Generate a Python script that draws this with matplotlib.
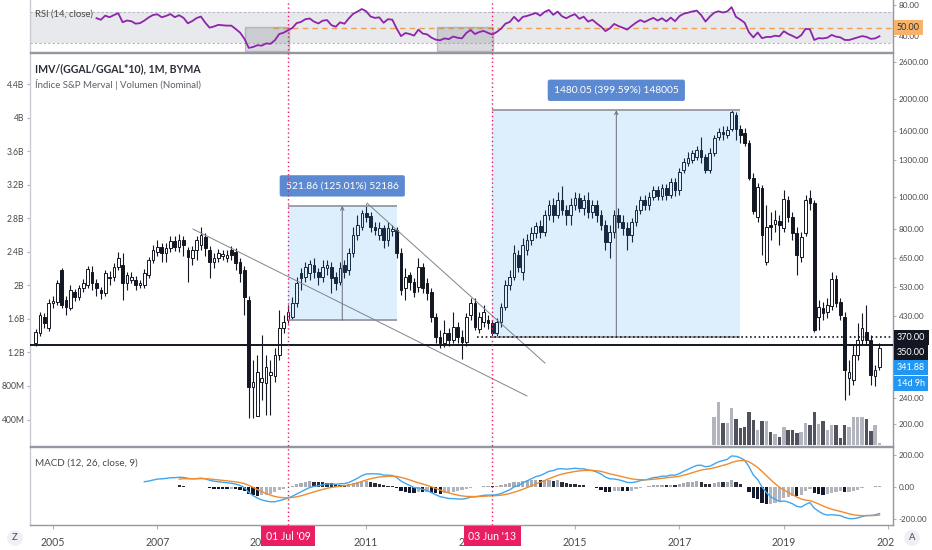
import numpy as np
import matplotlib
matplotlib.use("Agg")
import matplotlib.pyplot as plt
import matplotlib.transforms as mtrans
from matplotlib.patches import Rectangle
from matplotlib.lines import Line2D
from matplotlib.ticker import NullLocator, NullFormatter, FixedLocator

plt.rcParams['font.family'] = ['Lato', 'DejaVu Sans']

# ---------------- data (monthly, Sep 2004 .. Nov 2020) ----------------
START_YEAR, START_MONTH = 2004, 9

opens = [
    355, 382, 427, 396,
    472, 475, 596, 482, 455, 510, 492, 524, 536, 588, 544, 517,
    506, 563, 567, 609, 618, 544, 555, 555, 536, 536, 575, 640,
    677, 702, 672, 697, 732, 702, 737, 687, 649, 687, 712, 753,
    687, 632, 649, 658, 649, 687, 677, 632, 596, 482, 260, 212,
    270, 268, 283, 281, 326, 396, 418, 427, 472, 584, 567, 584,
    618, 588, 567, 604, 609, 567, 547, 618, 596, 672, 764, 809,
    893, 874, 809, 764, 803, 737, 787, 792, 672, 524, 575, 547,
    528, 609, 544, 510, 427, 371, 355, 381, 363, 398, 371, 358,
    433, 472, 393, 413, 418, 409, 381, 413, 458, 536, 567, 663,
    588, 687, 737, 776, 814, 781, 881, 945, 881, 980, 912, 881,
    945, 994, 925, 980, 899, 945, 881, 820, 727, 781, 881, 838,
    803, 764, 838, 912, 980, 945, 1001, 1052, 1008, 1067, 1015, 1113,
    1052, 1212, 1274, 1301, 1329, 1397, 1329, 1212, 1367, 1531, 1587, 1553,
    1621, 1790, 1621, 1575, 1468, 1145, 868, 1067, 632, 820, 826, 844,
    803, 980, 868, 776, 654, 776, 994, 959, 427, 455, 443, 462,
    559, 475, 427, 277, 273, 326, 363, 384, 363, 281, 300,
]
highs = [
    393, 443, 439, 485,
    496, 555, 605, 496, 536, 521, 536, 559, 613, 613, 559, 528,
    596, 592, 627, 677, 672, 588, 588, 571, 555, 600, 654, 712,
    737, 722, 722, 759, 759, 770, 759, 702, 707, 759, 809, 776,
    707, 672, 692, 687, 687, 707, 697, 649, 613, 496, 315, 326,
    376, 326, 315, 343, 449, 433, 465, 492, 567, 604, 632, 640,
    649, 604, 640, 640, 632, 588, 632, 640, 697, 809, 881, 912,
    951, 899, 838, 838, 820, 838, 820, 809, 697, 604, 588, 563,
    649, 627, 563, 524, 439, 390, 418, 396, 443, 413, 390, 439,
    489, 489, 443, 465, 433, 418, 424, 472, 555, 596, 712, 687,
    748, 770, 809, 838, 850, 912, 980, 994, 1037, 1082, 945, 994,
    1037, 1030, 1015, 1037, 980, 980, 912, 850, 820, 912, 925, 881,
    838, 862, 945, 1008, 1015, 1037, 1082, 1082, 1098, 1098, 1145, 1145,
    1229, 1320, 1377, 1397, 1437, 1531, 1357, 1417, 1553, 1632, 1655, 1655,
    1854, 1828, 1667, 1632, 1499, 1187, 1106, 1090, 945, 899, 912, 881,
    1052, 1008, 899, 809, 781, 1015, 1052, 980, 482, 475, 489, 588,
    575, 489, 443, 315, 350, 409, 439, 465, 376, 304, 356,
]
lows = [
    348, 373, 396, 387,
    455, 465, 455, 433, 449, 479, 482, 510, 524, 517, 496, 485,
    496, 536, 551, 596, 482, 517, 544, 517, 524, 524, 563, 627,
    658, 632, 632, 677, 682, 677, 658, 547, 618, 640, 687, 658,
    563, 604, 632, 640, 632, 640, 596, 547, 433, 209, 209, 211,
    237, 213, 213, 270, 315, 381, 409, 418, 458, 517, 547, 555,
    563, 536, 547, 575, 506, 517, 536, 563, 575, 654, 737, 792,
    838, 781, 764, 737, 697, 707, 759, 649, 499, 482, 517, 492,
    510, 506, 482, 413, 355, 342, 345, 348, 355, 355, 318, 348,
    418, 390, 381, 398, 393, 371, 371, 398, 449, 517, 555, 588,
    555, 663, 712, 748, 748, 759, 850, 838, 862, 881, 820, 820,
    912, 899, 881, 862, 862, 838, 792, 687, 649, 748, 803, 764,
    687, 727, 814, 887, 912, 912, 980, 980, 980, 980, 994, 1008,
    1015, 1187, 1247, 1274, 1301, 1274, 1187, 1187, 1338, 1499, 1499, 1521,
    1598, 1499, 1468, 1437, 1129, 887, 838, 663, 618, 737, 781, 712,
    781, 838, 737, 575, 632, 759, 912, 384, 390, 418, 424, 449,
    458, 418, 237, 246, 264, 315, 350, 350, 264, 262, 293,
]
closes = [
    384, 433, 409, 472,
    478, 544, 465, 458, 517, 492, 524, 544, 600, 544, 524, 506,
    584, 567, 609, 649, 544, 575, 567, 536, 544, 584, 640, 687,
    702, 672, 697, 732, 702, 737, 712, 654, 687, 737, 764, 697,
    632, 649, 672, 668, 663, 663, 627, 584, 492, 260, 270, 290,
    277, 300, 290, 326, 396, 413, 443, 472, 544, 563, 609, 622,
    588, 567, 609, 618, 563, 544, 604, 588, 672, 764, 820, 893,
    868, 809, 792, 803, 737, 803, 797, 672, 517, 567, 547, 510,
    609, 524, 506, 427, 371, 355, 381, 363, 398, 371, 358, 427,
    472, 398, 427, 443, 409, 381, 413, 458, 536, 567, 672, 609,
    712, 737, 776, 814, 781, 881, 945, 881, 980, 912, 881, 945,
    994, 925, 980, 899, 945, 881, 820, 727, 781, 881, 838, 803,
    764, 838, 912, 980, 945, 1001, 1052, 1008, 1067, 1015, 1113, 1052,
    1195, 1283, 1320, 1367, 1397, 1329, 1212, 1367, 1521, 1587, 1564, 1609,
    1828, 1621, 1553, 1468, 1145, 906, 1075, 764, 809, 809, 850, 820,
    987, 868, 776, 663, 753, 980, 959, 390, 458, 439, 465, 559,
    472, 433, 293, 290, 326, 363, 396, 363, 283, 293, 341.88,
]
# volume bars (visible from Sep 2017), relative heights
VOL_START = (2017, 9)
volume = [28, 43, 22, 22, 37, 26, 17, 18, 33, 25, 15, 24, 24, 13, 11, 8,
          18, 15, 15, 12, 13, 22, 20, 33, 21, 24, 15, 20,
          20, 7, 20, 18, 28, 28, 28, 26, 14, 20, 2]

xtick_years = [2005, 2007, 2009, 2011, 2013, 2015, 2017, 2019, 2021]
left_ticks = [0.4, 0.8, 1.2, 1.6, 2.0, 2.4, 2.8, 3.2, 3.6, 4.0, 4.4]
left_labels = ['400M', '800M', '1.2B', '1.6B', '2B', '2.4B', '2.8B', '3.2B', '3.6B', '4B', '4.4B']
right_ticks = [200, 240, 430, 530, 650, 800, 1000, 1300, 1600, 2000, 2600]
macd_ticks = [200, 0, -200]
macd_labels = ['200.00', '0.00', '-200.00']

# drawings
marker_dates = [(2009 + 6/12, "01 Jul '09"), (2013 + 5/12, "03 Jun '13")]
range_boxes = [  # (t0, t1, bottom price, change, label)
    (2009 + 6/12, 2011 + 7/12, 417.45, 521.86, '521.86 (125.01%) 52186'),
    (2013 + 5/12, 2018 + 2/12, 370.40, 1480.05, '1480.05 (399.59%) 148005'),
]
trend_lines = [((2007.682, 797), (2014.08, 244)),
               ((2011.015, 958), (2014.425, 308))]
support_level = 350
resist_level = 370
resist_start = 2013.12
rsi_boxes = [(2008.678, 2009.52), (2012.356, 2013.43)]

# ---------------- computations ----------------
o = np.array(opens, float); h = np.array(highs, float)
l = np.array(lows, float); c = np.array(closes, float)
n = len(c)
t = START_YEAR + (START_MONTH - 1) / 12 + np.arange(n) / 12


def ema(x, length):
    out = np.full(len(x), np.nan)
    s = np.where(~np.isnan(x))[0][0]
    f = s + length - 1
    out[f] = np.mean(x[s:f + 1])
    a = 2 / (length + 1)
    for i in range(f + 1, len(x)):
        out[i] = a * x[i] + (1 - a) * out[i - 1]
    return out


def rma(x, length):
    out = np.full(len(x), np.nan)
    s = np.where(~np.isnan(x))[0][0]
    f = s + length - 1
    out[f] = np.mean(x[s:f + 1])
    for i in range(f + 1, len(x)):
        out[i] = (out[i - 1] * (length - 1) + x[i]) / length
    return out


chg = np.diff(c, prepend=np.nan)
gain = np.where(chg > 0, chg, 0.0); gain[0] = np.nan
loss = np.where(chg < 0, -chg, 0.0); loss[0] = np.nan
rsi = 100 - 100 / (1 + rma(gain, 14) / rma(loss, 14))

macd = ema(c, 12) - ema(c, 26)
signal = ema(macd, 9)
hist = macd - signal

# ---------------- layout ----------------
W, H = 932, 550
fig = plt.figure(figsize=(W / 100, H / 100), dpi=100)


def rect(x0, y0, x1, y1):
    return [x0 / W, 1 - y1 / H, (x1 - x0) / W, (y1 - y0) / H]


XMIN, XMAX = 2004.5594, 2021.092
SEP = '#9598a1'
TXT = '#4a4a4a'
FS = 6.8
RFS = 5.9   # right price-scale labels

ax_rsi = fig.add_axes(rect(30, 0, 893, 52))
ax_left = fig.add_axes(rect(30, 53, 893, 446))
ax_vol = fig.add_axes(rect(30, 53, 893, 446))
ax = fig.add_axes(rect(30, 53, 893, 446))
ax_macd = fig.add_axes(rect(30, 447, 893, 525))
ax_vol.set_zorder(1); ax.set_zorder(2)
for a in (ax_vol, ax):
    a.patch.set_visible(False)

for a in (ax_rsi, ax_left, ax_vol, ax, ax_macd):
    a.set_xlim(XMIN, XMAX)
    a.tick_params(axis='x', which='both', bottom=False, labelbottom=False)
    for s in a.spines.values():
        s.set_color(SEP); s.set_linewidth(1.0)

# ---- left linear axis (billions) ----
ax_left.set_ylim(0.0836, 4.776)
ax_left.set_yticks(left_ticks)
ax_left.set_yticklabels(left_labels)
ax_left.tick_params(axis='y', left=True, labelleft=True, right=False, labelright=False,
                    length=2.5, color='#b0b3bb', labelsize=6.2, labelcolor=TXT, pad=1.5)
for s in ('top', 'right', 'bottom'):
    ax_left.spines[s].set_visible(False)
ax_left.spines['left'].set_color('#c9ccd3')

# ---- volume ----
ax_vol.axis('off')
ax_vol.set_ylim(0, 393)
vi = (VOL_START[0] - START_YEAR) * 12 + VOL_START[1] - START_MONTH
vt = t[vi:vi + len(volume)]
vup = c[vi:vi + len(volume)] >= o[vi:vi + len(volume)]
ax_vol.bar(vt, volume, width=0.8 / 12, bottom=1,
           color=np.where(vup, '#b2b5be', '#50535e'), linewidth=0)

# ---- candles ----
ax.set_yscale('log')
ax.set_ylim(171.1, 2778)
up = c >= o
bw = 0.62 / 12
ax.vlines(t, l, h, color='#131722', lw=0.8, zorder=2)
ax.bar(t[up], c[up] - o[up], bottom=o[up], width=bw, color='white',
       edgecolor='#131722', linewidth=0.7, zorder=3)
ax.bar(t[~up], o[~up] - c[~up], bottom=c[~up], width=bw, color='#131722',
       edgecolor='#131722', linewidth=0.7, zorder=3)

ax.yaxis.set_major_locator(FixedLocator(right_ticks))
ax.yaxis.set_minor_locator(NullLocator())
ax.yaxis.set_minor_formatter(NullFormatter())
ax.yaxis.set_major_formatter(matplotlib.ticker.FuncFormatter(lambda v, p: f'{v:.2f}'))
ax.tick_params(axis='y', left=False, labelleft=False, right=True, labelright=True,
               length=2.5, color='#b0b3bb', labelsize=RFS, labelcolor=TXT, pad=1.5)
ax.spines['left'].set_visible(False)

# range boxes
for (t0, t1, bot, dif, lab) in range_boxes:
    top = bot + dif
    ax.add_patch(Rectangle((t0, bot), t1 - t0, top - bot, facecolor='#2196f3',
                           alpha=0.15, edgecolor='none', zorder=4))
    ax.hlines([bot, top], t0, t1, color='#9598a1', lw=1.3, zorder=4)
    mid = (t0 + t1) / 2
    ax.annotate('', xy=(mid, top), xytext=(mid, bot),
                arrowprops=dict(arrowstyle='->', color='#6a6d78', lw=0.7,
                                shrinkA=0, shrinkB=0, mutation_scale=6), zorder=4)
    ax.annotate(lab, xy=(mid, top), xytext=(0, 20), textcoords='offset pixels',
                ha='center', va='center', color='white', fontsize=FS + 0.6,
                bbox=dict(boxstyle='round,pad=0.6,rounding_size=0.2', fc='#5b8ad2', ec='none'),
                zorder=6)

for (p0, p1) in trend_lines:
    ax.plot([p0[0], p1[0]], [p0[1], p1[1]], color='#80838d', lw=0.7, zorder=4)

ax.axhline(support_level, color='#131722', lw=1.4, zorder=5)
ax.hlines(resist_level, resist_start, XMAX, color='#131722', lw=1.2,
          linestyles=(0, (1, 1.6)), zorder=5)


def price_label(axis, y, text, fc, dy=0, tc='white'):
    axis.annotate(text, xy=(1.0, y), xycoords=mtrans.blended_transform_factory(axis.transAxes, axis.transData),
                  xytext=(4, dy), textcoords='offset pixels', ha='left', va='center',
                  fontsize=RFS + 0.6, color=tc, annotation_clip=False, zorder=10,
                  bbox=dict(boxstyle='square,pad=0.35', fc=fc, ec='none'))


price_label(ax, resist_level, f'{resist_level:.2f}', '#131722')
price_label(ax, support_level, f'{support_level:.2f}', '#131722', dy=-7)
price_label(ax, c[-1], f'{c[-1]:.2f}', '#2196f3', dy=-19)
price_label(ax, c[-1], '14d 9h', '#2196f3', dy=-35)

fig.text(35 / W, 1 - 69 / H, 'IMV/(GGAL/GGAL*10), 1M, BYMA', fontsize=7.6, fontweight='bold',
         color='#2a2e39', va='center', ha='left')
fig.text(35 / W, 1 - 84 / H, 'Índice S&P Merval | Volumen (Nominal)', fontsize=6.9,
         color='#5d606b', va='center', ha='left')

# ---- RSI ----
ax_rsi.set_ylim(18.8, 85.9)
ax_rsi.axhspan(30, 70, color='#e8e9ec', zorder=0, lw=0)
ax_rsi.axhline(70, color='#b2b5be', lw=0.8, ls=(0, (2, 2)))
ax_rsi.axhline(30, color='#b2b5be', lw=0.8, ls=(0, (2, 2)))
ax_rsi.hlines(50, 2009.21, XMAX, color='#f0a050', lw=1.0, linestyles=(0, (4, 3)), zorder=2)
for (a0, a1) in rsi_boxes:
    ax_rsi.add_patch(Rectangle((a0, 20.1), a1 - a0, 31, facecolor='#9598a1', alpha=0.35,
                               edgecolor='#6a6d78', lw=1.0, zorder=3))
ax_rsi.plot(t, rsi, color='#8e24aa', lw=1.3, zorder=4)
ax_rsi.set_yticks([80, 40])
ax_rsi.set_yticklabels(['80.00', '40.00'])
ax_rsi.tick_params(axis='y', left=False, labelleft=False, right=True, labelright=True,
                   length=2.5, color='#b0b3bb', labelsize=RFS, labelcolor=TXT, pad=1.5)
ax_rsi.spines['top'].set_visible(False)
ax_rsi.spines['left'].set_color('#c9ccd3')
price_label(ax_rsi, 50, '50.00', '#f5b36b', tc='#333333')
ax_rsi.text(0.006, 0.73, 'RSI (14, close)', transform=ax_rsi.transAxes, fontsize=FS,
            color=TXT, va='center', ha='left')

# ---- MACD ----
ax_macd.set_ylim(-237.5, 250)
hprev = np.concatenate([[np.nan], hist[:-1]])
grow = hist > hprev
hcol = np.where(hist >= 0, np.where(grow, '#a9acb5', '#2a2e39'),
                np.where(grow, '#b2b5be', '#131a2e'))
ok = ~np.isnan(hist)
ax_macd.bar(t[ok], hist[ok], width=0.75 / 12, color=hcol[ok], linewidth=0, zorder=2)
ax_macd.plot(t, macd, color='#3ea6f2', lw=1.0, zorder=3)
ax_macd.plot(t, signal, color='#f08c2e', lw=1.0, zorder=3)
ax_macd.set_yticks(macd_ticks)
ax_macd.set_yticklabels(macd_labels)
ax_macd.tick_params(axis='y', left=False, labelleft=False, right=True, labelright=True,
                    length=2.5, color='#b0b3bb', labelsize=RFS, labelcolor=TXT, pad=1.5)
ax_macd.set_xticks(xtick_years)
ax_macd.set_xticklabels([str(y) for y in xtick_years])
ax_macd.tick_params(axis='x', bottom=True, labelbottom=True, length=3, color='#b0b3bb',
                    labelsize=FS + 0.8, labelcolor=TXT, pad=6)
ax_macd.spines['left'].set_color('#c9ccd3')
ax_macd.text(0.006, 0.8, 'MACD (12, 26, close, 9)', transform=ax_macd.transAxes,
             fontsize=FS + 0.3, color=TXT, va='center', ha='left')

# ---- vertical date markers ----
vtr = mtrans.blended_transform_factory(ax_macd.transData, fig.transFigure)
for (td, lab) in marker_dates:
    fig.add_artist(Line2D([td, td], [1 - 525 / H, 1.0], transform=vtr, color='#e91e63',
                          lw=1.0, ls=(0, (1, 2)), zorder=5))
    fig.text(td, 1 - 536 / H, lab, transform=vtr, ha='center', va='center', color='white',
             fontsize=FS + 0.8, zorder=7,
             bbox=dict(boxstyle='square,pad=0.45', fc='#e91e63', ec='none'))

# cover right of time axis
fig.add_artist(Rectangle((894 / W, 0), 38 / W, 1 - 526 / H, transform=fig.transFigure,
                         facecolor='white', edgecolor='none', zorder=6))
fig.text(15 / W, 1 - 538 / H, 'Z', ha='center', va='center', fontsize=FS, color=TXT, zorder=7,
         bbox=dict(boxstyle='circle,pad=0.35', fc='#eef0f4', ec='none'))
fig.text(912 / W, 1 - 538 / H, 'A', ha='center', va='center', fontsize=FS, color=TXT, zorder=7,
         bbox=dict(boxstyle='circle,pad=0.35', fc='#eef0f4', ec='none'))

fig.savefig('out.png', dpi=100, facecolor='white')
